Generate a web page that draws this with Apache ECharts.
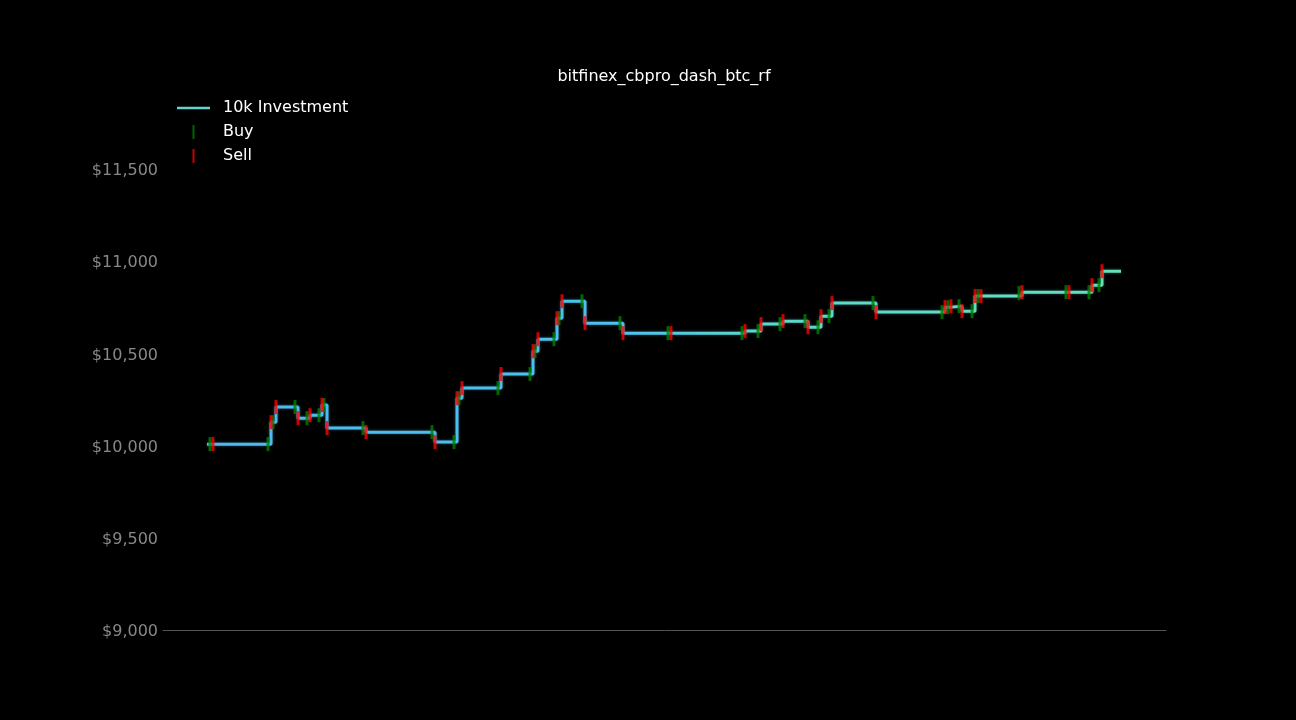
<!doctype html>
<html lang="en">
<head>
    <meta charset="UTF-8">
    <title>bitfinex_cbpro_dash_btc_rf</title>
    <style>
        html, body { margin: 0; padding: 0; background: #000; }
    </style>
</head>
<body>
    <script src="https://cdn.jsdelivr.net/npm/echarts@6/dist/echarts.min.js"></script>
    <div id="chart" style="width: 1296px; height: 720px"></div>

    <script>
        // days since start, portfolio value after each sell
        var lineDays = [4.4, 5.0, 10.8, 11.3, 13.5, 14.7, 15.9, 16.4, 20.3, 27.2, 29.4, 29.9, 33.8, 37.0, 37.5,
            39.4, 39.9, 42.2, 46.0, 50.8, 58.2, 59.8, 62.0, 64.5, 65.8, 66.9, 71.3, 78.2, 78.8, 79.9, 81.2,
            81.8, 85.9, 90.6, 92.9, 93.9, 95.8];
        var lineValues = [10008, 10008, 10127, 10209, 10149, 10165, 10220, 10095, 10073, 10019, 10257, 10312,
            10388, 10512, 10577, 10691, 10783, 10664, 10610, 10610, 10621, 10659, 10675, 10642, 10702, 10773,
            10724, 10751, 10756, 10729, 10811, 10811, 10832, 10832, 10870, 10946, 10946];

        // buys
        var buyDays = [4.7, 10.5, 11.0, 13.2, 14.4, 15.6, 16.1, 20.0, 26.9, 29.1, 29.6, 33.5, 36.7, 37.2, 39.1,
            39.6, 41.9, 45.7, 50.5, 57.9, 59.5, 61.7, 64.2, 65.5, 66.6, 71.0, 77.9, 78.5, 79.6, 80.9, 81.5,
            85.6, 90.3, 92.6, 93.6];
        var buyValues = [10008, 10008, 10127, 10209, 10149, 10165, 10220, 10095, 10073, 10019, 10257, 10312,
            10388, 10512, 10577, 10691, 10783, 10664, 10610, 10610, 10621, 10659, 10675, 10642, 10702, 10773,
            10724, 10751, 10756, 10729, 10811, 10827, 10832, 10832, 10870];

        // sells = the step points (except first/last)
        var sellDays = lineDays.slice(1, -1);
        var sellValues = lineValues.slice(1, -1);

        var yTicks = { min: 9000, max: 11800, step: 500 };

        function pairs(xs, ys) {
            return xs.map(function (x, i) { return [x, ys[i]]; });
        }

        var chart = echarts.init(document.getElementById('chart'));

        var option = {
            backgroundColor: '#000',
            animation: false,
            textStyle: { fontFamily: 'DejaVu Sans' },
            title: {
                text: 'bitfinex_cbpro_dash_btc_rf',
                left: 659,
                textAlign: 'center',
                top: 64,
                textStyle: { color: '#fff', fontSize: 16, fontWeight: 'normal', fontFamily: 'DejaVu Sans' }
            },
            legend: {
                orient: 'vertical',
                left: 172,
                top: 95,
                itemWidth: 33,
                itemHeight: 14,
                itemGap: 8,
                textStyle: { color: '#fff', fontSize: 16, fontFamily: 'DejaVu Sans', padding: [0, 0, 0, 8] },
                data: [
                    { name: '10k Investment', icon: 'path://M0,0H33V2.5H0Z', itemStyle: { color: '#5fd6d0' } },
                    { name: 'Buy', icon: 'path://M0,0H2V14H0Z', itemStyle: { color: '#008000' } },
                    { name: 'Sell', icon: 'path://M0,0H2V14H0Z', itemStyle: { color: '#ff0000' } }
                ]
            },
            grid: { left: 163, right: 130, top: 113.7, bottom: 90 },
            xAxis: {
                type: 'value',
                min: 0,
                max: 100.3,
                axisLine: { show: true, lineStyle: { color: '#555', width: 1 } },
                axisTick: { show: false },
                axisLabel: { show: false },
                splitLine: { show: false }
            },
            yAxis: {
                type: 'value',
                min: yTicks.min,
                max: yTicks.max,
                interval: yTicks.step,
                axisLine: { show: false },
                axisTick: { show: false },
                splitLine: { show: false },
                axisLabel: {
                    color: '#888',
                    fontSize: 16,
                    margin: 5,
                    verticalAlign: 'top',
                    lineHeight: 4,
                    showMaxLabel: false,
                    formatter: function (v) { return '$' + v.toLocaleString('en-US'); }
                }
            },
            series: [
                {
                    name: '10k Investment',
                    type: 'line',
                    step: 'end',
                    symbol: 'none',
                    data: pairs(lineDays, lineValues),
                    lineStyle: {
                        width: 3,
                        color: new echarts.graphic.LinearGradient(0, 0, 1, 0, [
                            { offset: 0, color: '#4db8f2' },
                            { offset: 0.45, color: '#4cc2ee' },
                            { offset: 0.6, color: '#5bd8cc' },
                            { offset: 1, color: '#66e0b4' }
                        ]),
                        shadowColor: 'rgba(60,140,170,0.6)',
                        shadowBlur: 3
                    },
                    z: 2
                },
                {
                    name: 'Buy',
                    type: 'scatter',
                    symbol: 'rect',
                    symbolSize: [3, 14],
                    itemStyle: { color: '#008000' },
                    data: pairs(buyDays, buyValues),
                    z: 3
                },
                {
                    name: 'Sell',
                    type: 'scatter',
                    symbol: 'rect',
                    symbolSize: [3, 14],
                    itemStyle: { color: '#ff0000' },
                    data: pairs(sellDays, sellValues),
                    z: 4
                }
            ]
        };

        chart.setOption(option);
    </script>
</body>
</html>
